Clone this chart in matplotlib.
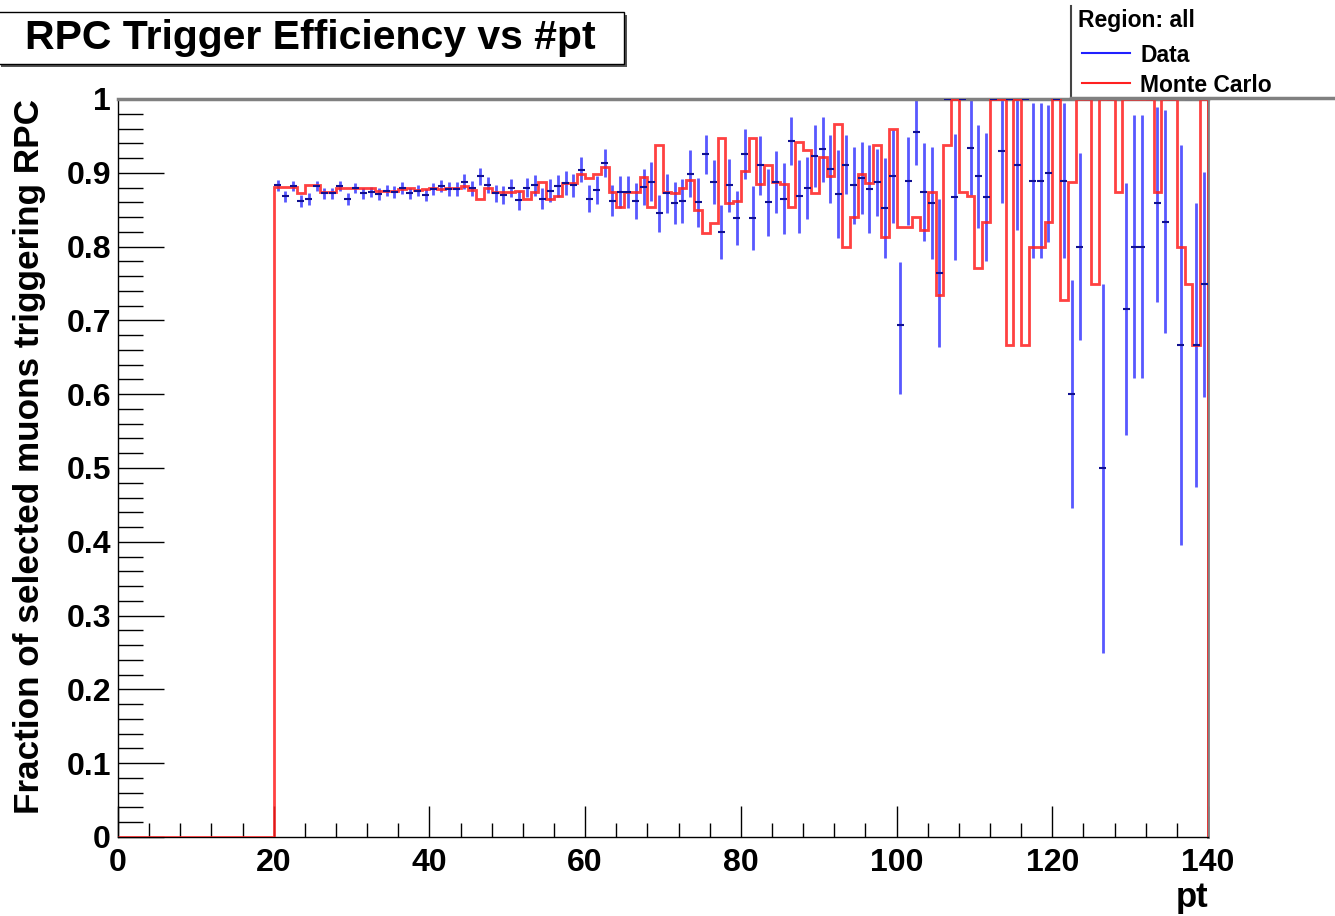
import numpy as np
import matplotlib
matplotlib.use('Agg')
import matplotlib.pyplot as plt
from matplotlib.patches import Rectangle
from matplotlib.lines import Line2D
from matplotlib.ticker import MultipleLocator, FuncFormatter

# pt bins: 1 GeV wide, 0..140 ; data exists from bin 20 on
pt_min, pt_max = 0, 140
data_first_bin = 20

# efficiency of data, bins 20..139
data_eff = [
    0.883, 0.868, 0.882, 0.862, 0.865, 0.882, 0.872, 0.872, 0.882, 0.865,
    0.879, 0.872, 0.874, 0.871, 0.876, 0.874, 0.879, 0.872, 0.876, 0.870,
    0.878, 0.882, 0.878, 0.878, 0.888, 0.879, 0.895, 0.883, 0.872, 0.870,
    0.879, 0.863, 0.880, 0.883, 0.865, 0.876, 0.882, 0.886, 0.883, 0.904,
    0.865, 0.877, 0.913, 0.862, 0.874, 0.874, 0.862, 0.881, 0.888, 0.845,
    0.872, 0.859, 0.862, 0.899, 0.860, 0.925, 0.888, 0.820, 0.883, 0.839,
    0.926, 0.839, 0.910, 0.860, 0.887, 0.865, 0.943, 0.868, 0.880, 0.923,
    0.932, 0.905, 0.871, 0.911, 0.883, 0.893, 0.878, 0.887, 0.852, 0.895,
    0.694, 0.889, 0.955, 0.874, 0.859, 0.764, 1.000, 0.867, 1.000, 0.933,
    0.895, 0.867, 1.000, 0.929, 1.000, 0.910, 1.000, 0.889, 0.889, 0.900,
    1.000, 0.889, 0.600, 0.800, 1.000, 1.000, 0.500, 1.000, 1.000, 0.715,
    0.800, 0.800, 1.000, 0.859, 0.833, 1.000, 0.667, 1.000, 0.667, 0.750,
]
data_err_lo = [
    0.007, 0.008, 0.007, 0.008, 0.008, 0.007, 0.007, 0.007, 0.007, 0.008,
    0.007, 0.007, 0.007, 0.008, 0.007, 0.008, 0.008, 0.008, 0.008, 0.008,
    0.008, 0.008, 0.009, 0.009, 0.010, 0.010, 0.011, 0.011, 0.012, 0.012,
    0.012, 0.013, 0.013, 0.014, 0.014, 0.015, 0.015, 0.016, 0.016, 0.017,
    0.018, 0.019, 0.019, 0.021, 0.022, 0.022, 0.024, 0.024, 0.026, 0.025,
    0.027, 0.028, 0.030, 0.032, 0.033, 0.026, 0.030, 0.037, 0.036, 0.037,
    0.034, 0.043, 0.040, 0.045, 0.042, 0.048, 0.032, 0.050, 0.042, 0.042,
    0.044, 0.046, 0.060, 0.040, 0.052, 0.049, 0.059, 0.045, 0.068, 0.063,
    0.094, 0.060, 0.044, 0.066, 0.076, 0.100, 0.000, 0.085, 0.000, 0.063,
    0.070, 0.087, 0.000, 0.070, 0.000, 0.088, 0.000, 0.104, 0.104, 0.094,
    0.000, 0.104, 0.154, 0.127, 0.000, 0.000, 0.250, 0.000, 0.000, 0.170,
    0.178, 0.178, 0.000, 0.134, 0.150, 0.000, 0.271, 0.000, 0.193, 0.154,
]
data_err_hi = [
    0.007, 0.008, 0.007, 0.008, 0.008, 0.007, 0.007, 0.007, 0.007, 0.008,
    0.007, 0.007, 0.007, 0.008, 0.007, 0.008, 0.008, 0.008, 0.008, 0.008,
    0.008, 0.008, 0.009, 0.009, 0.010, 0.010, 0.011, 0.011, 0.012, 0.012,
    0.012, 0.013, 0.013, 0.014, 0.014, 0.015, 0.015, 0.016, 0.016, 0.017,
    0.018, 0.019, 0.019, 0.021, 0.022, 0.022, 0.024, 0.024, 0.026, 0.025,
    0.027, 0.028, 0.030, 0.032, 0.033, 0.026, 0.030, 0.037, 0.036, 0.037,
    0.034, 0.043, 0.040, 0.045, 0.042, 0.048, 0.032, 0.050, 0.042, 0.042,
    0.044, 0.046, 0.060, 0.040, 0.052, 0.049, 0.059, 0.045, 0.068, 0.063,
    0.085, 0.060, 0.044, 0.066, 0.076, 0.100, 0.000, 0.085, 0.000, 0.066,
    0.070, 0.087, 0.000, 0.070, 0.000, 0.090, 0.000, 0.106, 0.106, 0.092,
    0.000, 0.106, 0.155, 0.127, 0.000, 0.000, 0.250, 0.000, 0.000, 0.171,
    0.178, 0.178, 0.000, 0.130, 0.152, 0.000, 0.271, 0.000, 0.192, 0.151,
]

# Monte Carlo efficiency, bins 0..139
mc_eff = [
    0.0, 0.0, 0.0, 0.0, 0.0, 0.0, 0.0, 0.0, 0.0, 0.0,
    0.0, 0.0, 0.0, 0.0, 0.0, 0.0, 0.0, 0.0, 0.0, 0.0,
    0.881, 0.881, 0.881, 0.872, 0.883, 0.883, 0.874, 0.874, 0.880, 0.880,
    0.880, 0.880, 0.880, 0.876, 0.876, 0.876, 0.878, 0.879, 0.877, 0.878,
    0.879, 0.878, 0.879, 0.879, 0.882, 0.877, 0.865, 0.880, 0.874, 0.874,
    0.874, 0.876, 0.865, 0.874, 0.888, 0.865, 0.868, 0.886, 0.886, 0.899,
    0.893, 0.899, 0.908, 0.874, 0.854, 0.874, 0.874, 0.894, 0.854, 0.938,
    0.874, 0.872, 0.880, 0.890, 0.850, 0.818, 0.832, 0.947, 0.859, 0.862,
    0.902, 0.947, 0.885, 0.910, 0.887, 0.885, 0.854, 0.942, 0.931, 0.872,
    0.922, 0.896, 0.966, 0.800, 0.840, 0.899, 0.886, 0.938, 0.813, 0.960,
    0.827, 0.827, 0.840, 0.822, 0.874, 0.734, 0.938, 1.000, 0.874, 0.868,
    0.771, 0.834, 1.000, 1.000, 0.667, 1.000, 0.667, 0.800, 0.800, 0.834,
    1.000, 0.728, 0.888, 1.000, 1.000, 0.750, 1.000, 1.000, 0.874, 1.000,
    1.000, 1.000, 1.000, 0.874, 1.000, 1.000, 0.800, 0.750, 0.667, 1.000,
]

plt.rcParams['font.family'] = ['Liberation Sans', 'DejaVu Sans']
plt.rcParams['font.weight'] = 'bold'

W, H = 1335, 916
def fx(px):
    return px / W
def fy(py):
    return 1 - py / H

fig = plt.figure(figsize=(13.35, 9.16), dpi=100, facecolor='white')
ax = fig.add_axes([fx(118), fy(837), fx(1208) - fx(118), fy(99) - fy(837)])

edges = np.arange(pt_min, pt_max + 1)
centers = np.arange(data_first_bin, pt_max) + 0.5

ax.errorbar(centers, data_eff, yerr=[data_err_lo, data_err_hi], fmt='none',
            ecolor='#2020ff', elinewidth=2, alpha=0.75, zorder=2)
ax.stairs(mc_eff, edges, color='#ff2020', lw=2, alpha=0.85, zorder=3)
ax.errorbar(centers, data_eff, xerr=0.45, fmt='none', ecolor='#101090',
            elinewidth=1.5, zorder=4)

ax.set_xlim(pt_min, pt_max)
ax.set_ylim(0, 1)
ax.xaxis.set_major_locator(MultipleLocator(20))
ax.xaxis.set_minor_locator(MultipleLocator(4))
ax.yaxis.set_major_locator(MultipleLocator(0.1))
ax.yaxis.set_minor_locator(MultipleLocator(0.02))
ax.yaxis.set_major_formatter(FuncFormatter(lambda v, p: '%g' % round(v, 2)))
ax.tick_params(which='both', direction='in', top=False, right=False, labelsize=23, width=1)
ax.tick_params(axis='y', which='major', length=33, pad=5)
ax.tick_params(axis='y', which='minor', length=18)
ax.tick_params(axis='x', which='major', length=22, pad=8)
ax.tick_params(axis='x', which='minor', length=10)
for s in ['left', 'bottom']:
    ax.spines[s].set_color('black')
    ax.spines[s].set_linewidth(1)
ax.spines['top'].set_color('#808080')
ax.spines['top'].set_linewidth(2.5)
ax.spines['right'].set_color('#808080')
ax.spines['right'].set_linewidth(2)

# title box with shadow
fig.patches.append(Rectangle((fx(1), fy(67)), fx(627) - fx(1), fy(15) - fy(67),
                             transform=fig.transFigure, facecolor='#555555', edgecolor='none'))
fig.patches.append(Rectangle((fx(-2), fy(64)), fx(624) - fx(-2), fy(12) - fy(64),
                             transform=fig.transFigure, facecolor='white', edgecolor='black', lw=1))
fig.text(fx(310), fy(38), 'RPC Trigger Efficiency vs #pt', ha='center', va='center', fontsize=29.5)

fig.text(fx(30), fy(99), 'Fraction of selected muons triggering RPC', rotation=90,
         ha='center', va='top', fontsize=25.3)
fig.text(fx(1208), fy(897), 'pt', ha='right', va='center', fontsize=25)

# legend box
fig.lines.append(Line2D([fx(1071), fx(1071)], [fy(6), fy(99)], transform=fig.transFigure,
                        color='#444444', lw=1.5))
fig.lines.append(Line2D([fx(1071), fx(1335)], [fy(98), fy(98)], transform=fig.transFigure,
                        color='#808080', lw=2.5))
fig.text(fx(1078), fy(21), 'Region: all', ha='left', va='center', fontsize=16.5)
fig.lines.append(Line2D([fx(1082), fx(1130)], [fy(53), fy(53)], transform=fig.transFigure,
                        color='#2020ff', lw=1.5))
fig.lines.append(Line2D([fx(1082), fx(1130)], [fy(83), fy(83)], transform=fig.transFigure,
                        color='#ff2020', lw=1.5))
fig.text(fx(1140), fy(55), 'Data', ha='left', va='center', fontsize=16.5)
fig.text(fx(1140), fy(86), 'Monte Carlo', ha='left', va='center', fontsize=16.5)

fig.savefig('out.png', dpi=100, facecolor='white')
